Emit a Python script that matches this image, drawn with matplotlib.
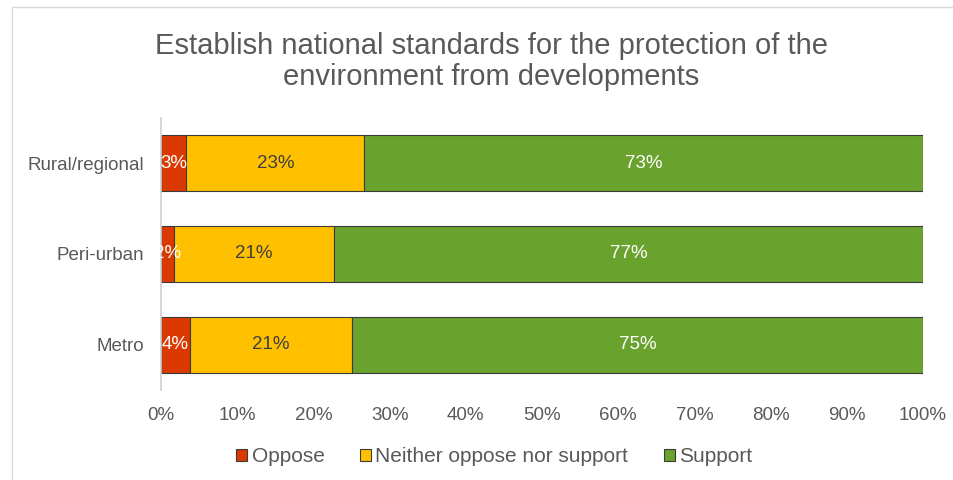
import matplotlib

matplotlib.use("Agg")
import matplotlib.pyplot as plt
from matplotlib.lines import Line2D
from matplotlib.patches import Patch

plt.rcParams["font.family"] = ["Liberation Sans", "DejaVu Sans"]

categories = ["Metro", "Peri-urban", "Rural/regional"]
oppose = [3.8, 1.7, 3.3]
neither = [21.3, 21.0, 23.4]
support = [74.9, 77.3, 73.3]
series_names = ["Oppose", "Neither oppose nor support", "Support"]
colors = ["#DA3A00", "#FFC000", "#6AA22E"]
label_colors = ["white", "#404040", "white"]
xticks = [0, 10, 20, 30, 40, 50, 60, 70, 80, 90, 100]

fig = plt.figure(figsize=(9.54, 4.8), dpi=100)
ax = fig.add_axes([0.1688, 0.1875, 0.7987, 0.567])

text_grey = "#595959"
left = [0.0] * len(categories)
for vals, name, col, lc in zip([oppose, neither, support], series_names, colors, label_colors):
    bars = ax.barh(range(len(categories)), vals, left=left, height=0.62,
                   color=col, edgecolor="#3a3a3a", linewidth=0.8, label=name, zorder=2)
    for i, (b, v) in enumerate(zip(bars, vals)):
        ax.text(left[i] + v / 2, i, f"{round(v):.0f}%", ha="center", va="center",
                color=lc, fontsize=13.5, zorder=3, clip_on=False)
    left = [l + v for l, v in zip(left, vals)]

ax.set_xlim(0, 100)
ax.set_ylim(-0.5, 2.5)
ax.set_yticks(range(len(categories)))
ax.set_yticklabels(categories)
ax.set_xticks(xticks)
ax.set_xticklabels([f"{t}%" for t in xticks])
ax.tick_params(axis="both", length=0, labelsize=13.5, colors=text_grey)
ax.tick_params(axis="x", pad=12)
ax.tick_params(axis="y", pad=12)
for s in ["top", "right", "bottom"]:
    ax.spines[s].set_visible(False)
ax.spines["left"].set_color("#d0d0d0")
ax.spines["left"].set_linewidth(1.2)

fig.text(0.515, 0.872, "Establish national standards for the protection of the\nenvironment from developments",
         ha="center", va="center", fontsize=21, color=text_grey, linespacing=1.15)

handles = [Patch(facecolor=c, edgecolor="#3a3a3a", linewidth=0.8) for c in colors]
fig.legend(handles, series_names, loc="center", bbox_to_anchor=(0.518, 0.048), ncol=3,
           frameon=False, fontsize=15, labelcolor=text_grey, handlelength=0.55,
           handleheight=0.55, handletextpad=0.2, columnspacing=1.7)

# outer chart frame (partly visible at top/left)
fig.add_artist(Line2D([12 / 954, 1], [1 - 7 / 480, 1 - 7 / 480], transform=fig.transFigure,
                      color="#d9d9d9", lw=1))
fig.add_artist(Line2D([12 / 954, 12 / 954], [0, 1 - 7 / 480], transform=fig.transFigure,
                      color="#d9d9d9", lw=1))

fig.savefig("out.png", dpi=100, facecolor="white")
